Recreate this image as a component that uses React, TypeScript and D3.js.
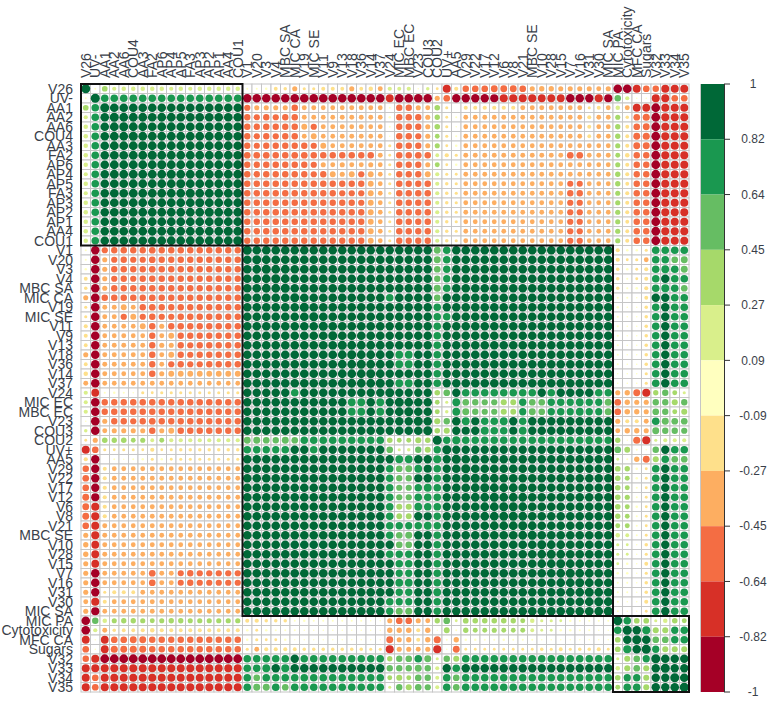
import React from 'react';
import * as d3 from 'd3';

const variables = [
  'V26', 'UV-', 'AA1', 'AA2', 'AA6', 'COU4', 'AA3', 'FA2', 'AP6', 'AP4', 'AP5', 'FA3', 'AP3', 'AP2', 'AP1', 'AA4', 'COU1',
  'V1', 'V20', 'V3', 'V4', 'MBC SA', 'MIC CA', 'V19', 'MIC SE', 'V11', 'V9', 'V13', 'V18', 'V36', 'V14', 'V37', 'V24',
  'MIC EC', 'MBC EC', 'V23', 'COU3', 'COU2', 'UV+', 'AA5', 'V29', 'V22', 'V17', 'V12', 'V6', 'V8', 'V21', 'MBC SE',
  'V10', 'V28', 'V15', 'V7', 'V16', 'V31', 'V30', 'MIC SA', 'MIC PA', 'Cytotoxicity', 'MFC CA', 'Sugars', 'V32', 'V33', 'V34', 'V35',
];

const legendTicks = ['1', '0.82', '0.64', '0.45', '0.27', '0.09', '-0.09', '-0.27', '-0.45', '-0.64', '-0.82', '-1'];

// cluster boxes, as [first, last] variable
const clusters = [['V26', 'COU1'], ['V1', 'MIC SA'], ['MIC PA', 'V35']];

// lower triangle of the correlation matrix, in hundredths
const rowsClusterA = [
  [],
  [5],
  [40, 72],
  [22, 72, 93],
  [25, 72, 92, 96],
  [25, 72, 92, 96, 96],
  [25, 72, 92, 95, 96, 96],
  [25, 72, 90, 94, 94, 95, 95],
  [25, 72, 90, 95, 95, 96, 96, 95],
  [22, 72, 90, 95, 95, 96, 96, 96, 96],
  [25, 72, 90, 94, 94, 95, 95, 95, 96, 96],
  [22, 72, 90, 94, 94, 95, 95, 96, 96, 96, 96],
  [25, 72, 90, 94, 94, 95, 95, 95, 96, 96, 96, 96],
  [25, 72, 90, 94, 94, 95, 95, 95, 96, 96, 96, 96, 96],
  [25, 72, 90, 94, 94, 95, 95, 95, 96, 96, 96, 96, 96, 96],
  [25, 72, 90, 94, 94, 95, 95, 95, 96, 96, 96, 96, 96, 96, 96],
  [25, 72, 90, 93, 94, 94, 94, 94, 95, 95, 95, 95, 95, 95, 95, 95],
];

const rowsClusterB = [
  [-5, -88, -48, -50, -52, -50, -50, -55, -50, -52, -52, -52, -52, -52, -52, -52, -50],
  [5, -90, -32, -48, -50, -48, -48, -55, -50, -50, -52, -52, -52, -52, -52, -52, -52,
    93],
  [-8, -90, -32, -50, -52, -50, -50, -55, -52, -52, -52, -52, -52, -52, -52, -52, -50,
    93, 95],
  [-18, -90, -32, -48, -50, -48, -50, -52, -52, -50, -52, -50, -50, -52, -52, -52, -50,
    93, 94, 95],
  [-15, -90, -32, -50, -50, -50, -50, -52, -50, -52, -50, -52, -50, -52, -52, -52, -50,
    92, 94, 95, 95],
  [-32, -92, -52, -52, -52, -52, -50, -55, -52, -52, -52, -52, -52, -52, -52, -52, -52,
    90, 92, 92, 92, 92],
  [-12, -92, -30, -30, -42, -30, -50, -55, -50, -50, -52, -50, -50, -50, -52, -52, -50,
    90, 92, 92, 92, 92, 92],
  [-12, -92, -30, -30, -48, -42, -48, -52, -48, -48, -52, -52, -52, -52, -52, -50, -50,
    90, 92, 92, 92, 92, 92, 94],
  [-20, -92, -28, -28, -30, -28, -42, -52, -32, -50, -52, -50, -50, -50, -52, -50, -50,
    90, 92, 92, 92, 92, 92, 93, 93],
  [-20, -92, -28, -28, -30, -28, -28, -50, -30, -42, -50, -50, -50, -50, -50, -50, -50,
    90, 92, 92, 92, 92, 92, 93, 93, 94],
  [-18, -90, -28, -30, -30, -30, -30, -50, -32, -32, -50, -48, -50, -50, -50, -50, -50,
    90, 92, 92, 92, 92, 92, 93, 93, 94, 94],
  [-32, -90, -30, -30, -28, -30, -30, -52, -30, -42, -50, -48, -50, -50, -50, -50, -50,
    90, 92, 92, 92, 92, 92, 93, 93, 94, 94, 95],
  [-18, -92, -30, -30, -30, -30, -30, -50, -30, -48, -50, -48, -48, -50, -50, -50, -50,
    90, 92, 92, 92, 92, 92, 93, 93, 94, 94, 95, 95],
  [-25, -90, -30, -30, -28, -28, -30, -52, -32, -42, -42, -42, -42, -42, -42, -42, -42,
    90, 92, 92, 92, 92, 92, 93, 93, 94, 94, 95, 95, 95],
  [-30, -90, -28, -28, -28, -28, -28, -30, -28, -28, -28, -28, -28, -28, -28, -28, -28,
    90, 92, 92, 92, 92, 92, 93, 93, 94, 94, 95, 95, 95, 95],
  [22, -75, -5, -8, -5, -3, -12, -10, -12, -12, -12, -12, -12, -12, -12, -12, -12,
    88, 88, 88, 88, 88, 72, 88, 88, 88, 88, 88, 88, 88, 88, 88],
  [20, -92, -50, -50, -50, -52, -52, -52, -50, -50, -52, -52, -52, -52, -52, -52, -50,
    88, 88, 90, 90, 90, 90, 90, 90, 90, 90, 90, 75, 75, 90, 75, 85],
  [22, -92, -50, -52, -52, -52, -52, -52, -50, -50, -50, -52, -52, -52, -52, -52, -50,
    88, 88, 90, 90, 90, 90, 90, 90, 90, 90, 90, 75, 75, 90, 75, 85, 96],
  [3, -92, -32, -50, -50, -48, -50, -55, -50, -50, -50, -52, -52, -50, -50, -50, -50,
    90, 90, 90, 90, 90, 90, 90, 90, 90, 90, 90, 90, 90, 90, 90, 86, 90, 90],
  [15, -90, -30, -32, -32, -32, -32, -52, -32, -42, -52, -52, -52, -52, -52, -50, -50,
    90, 90, 90, 90, 90, 90, 90, 90, 90, 90, 90, 90, 90, 90, 90, 86, 90, 90, 93],
  [-10, -32, 38, 35, 38, 28, 32, 18, 30, 22, 22, 22, 22, 22, 22, 22, 22,
    58, 60, 55, 50, 60, 55, 70, 70, 72, 72, 72, 72, 72, 70, 72, 38, 28, 30, 45, 38],
  [-78, -55, -12, -10, -12, -12, -10, -22, -10, -12, -15, -15, -15, -15, -15, -15, -15,
    70, 70, 68, 66, 72, 86, 86, 70, 86, 86, 86, 86, 86, 86, 86, 55, 12, 15, 50, 45, 68],
  [-22, -85, 0, -5, -3, -5, -8, -12, -8, -10, -12, -12, -12, -12, -12, -12, -12,
    90, 90, 90, 90, 90, 90, 90, 90, 90, 90, 90, 90, 90, 90, 90, 85, 75, 75, 90, 85, 80, 85],
  [-52, -85, -20, -28, -28, -28, -28, -30, -28, -28, -28, -28, -28, -28, -28, -28, -28,
    92, 92, 92, 92, 92, 92, 92, 92, 92, 92, 92, 92, 92, 92, 92, 72, 55, 60, 75, 82, 72, 86, 92],
  [-55, -85, -20, -28, -28, -28, -28, -30, -28, -28, -28, -28, -28, -28, -28, -28, -28,
    92, 92, 92, 92, 92, 92, 92, 92, 92, 92, 92, 92, 92, 92, 92, 72, 50, 50, 82, 88, 70, 85, 90,
    94],
  [-55, -85, -22, -28, -28, -28, -28, -30, -28, -28, -28, -28, -28, -28, -28, -28, -28,
    92, 92, 92, 92, 92, 92, 92, 92, 92, 92, 92, 92, 92, 92, 92, 72, 48, 48, 70, 78, 72, 85, 90,
    93, 95],
  [-58, -82, -22, -28, -28, -28, -28, -30, -28, -28, -28, -28, -28, -28, -28, -28, -28,
    92, 92, 92, 92, 92, 92, 92, 92, 92, 92, 92, 92, 92, 92, 92, 72, 48, 48, 72, 72, 70, 85, 90,
    93, 95, 96],
  [-58, -80, -22, -28, -28, -28, -28, -30, -28, -28, -28, -28, -28, -28, -28, -28, -28,
    92, 92, 92, 92, 92, 92, 92, 92, 92, 92, 92, 92, 92, 92, 92, 72, 45, 45, 75, 72, 72, 85, 90,
    92, 94, 95, 96],
  [-58, -80, -22, -28, -28, -28, -28, -30, -28, -28, -28, -28, -28, -28, -28, -28, -28,
    92, 92, 92, 92, 92, 92, 92, 92, 92, 92, 92, 92, 92, 92, 92, 72, 42, 42, 85, 82, 68, 85, 90,
    92, 94, 95, 96, 97],
  [-55, -78, -30, -28, -28, -28, -28, -30, -28, -28, -28, -28, -28, -28, -28, -28, -28,
    92, 92, 92, 92, 92, 92, 92, 92, 92, 92, 92, 92, 92, 92, 92, 72, 68, 65, 70, 75, 68, 85, 90,
    92, 93, 94, 95, 96, 96],
  [-32, -80, -30, -28, -28, -28, -28, -30, -28, -28, -28, -28, -28, -28, -28, -28, -28,
    92, 92, 92, 92, 92, 92, 92, 92, 92, 92, 92, 92, 92, 92, 92, 72, 55, 60, 88, 85, 72, 85, 90,
    90, 91, 92, 93, 94, 94, 95],
  [-35, -75, -30, -28, -28, -28, -28, -30, -28, -28, -28, -28, -28, -28, -28, -28, -28,
    92, 92, 92, 92, 92, 92, 92, 92, 92, 92, 92, 92, 92, 92, 92, 88, 55, 55, 88, 90, 72, 86, 90,
    90, 91, 92, 93, 94, 94, 94, 94],
  [-35, -75, -30, -28, -28, -28, -28, -30, -28, -28, -28, -28, -28, -28, -28, -28, -28,
    92, 92, 92, 92, 92, 92, 92, 92, 92, 92, 92, 92, 92, 92, 92, 72, 68, 68, 88, 90, 70, 86, 90,
    90, 91, 92, 92, 93, 93, 93, 94, 95],
  [-32, -75, -30, -28, -28, -28, -28, -30, -28, -28, -28, -28, -28, -28, -28, -28, -28,
    92, 92, 92, 92, 92, 92, 92, 92, 92, 92, 92, 92, 92, 92, 92, 88, 70, 70, 88, 90, 72, 86, 90,
    90, 91, 92, 92, 93, 93, 93, 94, 95, 95],
  [-32, -90, -28, -28, -28, -28, -28, -55, -30, -30, -46, -50, -48, -48, -48, -48, -48,
    92, 92, 92, 92, 92, 92, 92, 92, 92, 92, 92, 92, 92, 92, 92, 88, 65, 65, 88, 90, 72, 86, 90,
    88, 90, 90, 91, 92, 92, 92, 93, 94, 94, 95],
  [-32, -90, -28, -28, -28, -28, -28, -55, -30, -30, -46, -50, -48, -48, -48, -48, -48,
    92, 92, 92, 92, 92, 92, 92, 92, 92, 92, 92, 92, 92, 92, 92, 88, 75, 75, 88, 90, 72, 86, 90,
    88, 90, 90, 91, 92, 92, 92, 93, 94, 94, 95, 96],
  [-32, -85, -12, -20, -20, -18, -28, -28, -28, -28, -28, -28, -28, -28, -28, -28, -28,
    92, 92, 92, 92, 92, 92, 92, 92, 92, 92, 92, 92, 92, 92, 92, 90, 68, 68, 85, 90, 75, 86, 90,
    88, 90, 90, 91, 91, 92, 92, 92, 93, 93, 94, 95, 95],
  [-30, -80, -20, -28, -28, -28, -28, -30, -28, -28, -28, -28, -28, -28, -28, -28, -28,
    92, 92, 92, 92, 92, 92, 92, 92, 92, 92, 92, 92, 92, 92, 92, 72, 65, 65, 85, 90, 70, 86, 90,
    88, 89, 90, 90, 91, 91, 92, 92, 93, 93, 94, 94, 94, 95],
  [-32, -82, -28, -28, -28, -28, -28, -30, -28, -28, -28, -28, -28, -28, -28, -28, -28,
    92, 92, 92, 92, 92, 92, 92, 92, 92, 92, 92, 92, 92, 92, 92, 68, 62, 62, 85, 85, 70, 85, 88,
    88, 89, 89, 90, 90, 91, 91, 92, 92, 92, 93, 93, 94, 94, 95],
];

const rowsClusterC = [
  [-92, 52, 25, 32, 35, 35, 33, 30, 32, 35, 35, 32, 33, 33, 33, 33, 33,
    -20, -22, -15, -15, -15, -5, -8, -5, -5, -5, -5, -5, -5, -3, -3, -32, -55, -55, -32, -30, 35, 55, 10,
    40, 38, 38, 38, 38, 35, 30, 25, 12, 12, 10, 8, 5, 5, 5, 5],
  [-92, 22, -30, -15, -18, -18, -20, -25, -20, -20, -18, -20, -20, -20, -18, -18, -20,
    -8, -10, -8, -5, -5, 5, -3, -3, -3, -3, -3, -3, -3, -3, -3, -35, -35, -38, -20, -35, 2, 42, 5,
    35, 30, 30, 32, 30, 28, 30, 18, 10, 10, 8, 8, 5, 5, 3, 3,
    70],
  [-75, 3, -75, -55, -55, -58, -58, -52, -52, -50, -52, -52, -52, -52, -52, -52, -52,
    -8, -12, -10, -10, -8, -3, -3, -3, -3, -3, -3, -3, -3, -3, -3, -60, -32, -35, -20, -35, -62, 5, -35,
    -8, -8, -5, -5, -8, -5, -5, -5, -3, -3, -3, -3, -3, -3, -3, -3,
    40, 88],
  [-55, 3, -75, -62, -58, -62, -60, -52, -52, -52, -52, -52, -52, -52, -52, -52, -52,
    -12, -28, -20, -20, -20, -18, -15, -15, -15, -15, -15, -15, -15, -12, -12, -80, -32, -32, -30, -32, -80, 3, -58,
    -10, -10, -10, -10, -10, -10, -10, -10, -15, -12, -18, -12, -15, -15, -20, -10,
    40, 80, 90],
  [-52, -78, -95, -95, -95, -95, -95, -95, -95, -95, -95, -95, -95, -95, -95, -95, -95,
    72, 70, 70, 72, 72, 88, 70, 70, 70, 70, 72, 70, 72, 70, 72, 35, 50, 55, 72, 60, 12, 52, 45,
    72, 72, 72, 72, 72, 72, 72, 72, 72, 72, 72, 72, 72, 72, 72, 72,
    12, 45, 55, 65],
  [-78, -78, -78, -78, -78, -78, -78, -78, -78, -78, -78, -78, -78, -78, -78, -78, -78,
    72, 70, 75, 88, 78, 88, 88, 88, 88, 88, 88, 88, 88, 88, 88, 50, 50, 50, 60, 50, 20, 85, 72,
    88, 88, 88, 86, 86, 86, 86, 86, 86, 86, 86, 86, 86, 86, 86, 86,
    25, 45, 55, 45, 90],
  [-78, -55, -78, -78, -78, -78, -80, -80, -78, -78, -78, -78, -78, -78, -78, -78, -78,
    72, 55, 72, 72, 72, 72, 72, 72, 72, 72, 72, 72, 72, 72, 72, 30, 45, 30, 55, 50, 20, 72, 55,
    72, 72, 72, 72, 72, 72, 72, 72, 72, 72, 72, 72, 72, 72, 72, 72,
    38, 65, 68, 45, 88, 85],
  [-78, -55, -78, -78, -78, -78, -78, -78, -78, -78, -78, -78, -78, -78, -78, -78, -78,
    72, 60, 60, 72, 55, 72, 72, 72, 72, 72, 72, 72, 72, 72, 72, 12, 50, 45, 55, 48, 20, 70, 55,
    72, 72, 72, 72, 72, 72, 72, 72, 72, 72, 72, 72, 72, 72, 72, 72,
    30, 70, 72, 45, 88, 85, 92],
];

const lowerRows = [...rowsClusterA, ...rowsClusterB, ...rowsClusterC];

const corrValue = (i: number, j: number) =>
  i === j ? 1 : lowerRows[Math.max(i, j)][Math.min(i, j)] / 100;

const cells = variables.flatMap((rowName, i) =>
  variables.map((colName, j) => ({ rowName, colName, value: corrValue(i, j) }))
);

const x = d3.scaleBand<string>().domain(variables).range([81, 689]);
const y = d3.scaleBand<string>().domain(variables).range([84, 692]);
const color = d3.scaleQuantize<string>().domain([-1, 1]).range(d3.schemeRdYlGn[11]);
const radius = d3.scaleSqrt().domain([0, 1]).range([0, 4.5]);

// colour legend, top bin is the strongest positive
const legendColors = [...d3.schemeRdYlGn[11]].reverse();
const legendBins = d3.scaleBand<string>().domain(legendColors).range([84, 692]);
const legendY = d3.scalePoint<string>().domain(legendTicks).range([84, 692]);

const textColor = '#3a3f4a';
const labelFont = 'Arial, "Liberation Sans", sans-serif';

export default function App() {
  const cell = x.bandwidth();
  return (
    <svg
      width={772}
      height={705}
      style={{ position: 'absolute', left: 0, top: 0, display: 'block', background: '#fff' }}
      fontFamily={labelFont}
    >
      <g>
        {cells.map(d => (
          <rect
            key={`g-${d.rowName}-${d.colName}`}
            x={x(d.colName)}
            y={y(d.rowName)}
            width={cell}
            height={cell}
            fill="#fff"
            stroke="#c6c6c6"
            strokeWidth={1}
          />
        ))}
      </g>
      <g>
        {cells.map(d => (
          <circle
            key={`c-${d.rowName}-${d.colName}`}
            cx={x(d.colName)! + cell / 2}
            cy={y(d.rowName)! + cell / 2}
            r={radius(Math.abs(d.value))}
            fill={color(d.value)}
          />
        ))}
      </g>
      <g>
        {clusters.map(([first, last]) => (
          <rect
            key={first}
            x={x(first)}
            y={y(first)}
            width={x(last)! + cell - x(first)!}
            height={y(last)! + cell - y(first)!}
            fill="none"
            stroke="#111"
            strokeWidth={2}
          />
        ))}
      </g>
      <g fontSize={14} fill={textColor}>
        {variables.map(name => (
          <text key={`r-${name}`} x={73} y={y(name)! + cell / 2} dy="0.35em" textAnchor="end">
            {name}
          </text>
        ))}
        {variables.map(name => (
          <text
            key={`t-${name}`}
            transform={`translate(${x(name)! + cell / 2},78) rotate(-90)`}
            dy="0.35em"
          >
            {name}
          </text>
        ))}
      </g>
      <g>
        {legendColors.map(c => (
          <rect key={c} x={701} y={legendBins(c)} width={23} height={legendBins.bandwidth()} fill={c} />
        ))}
        <line x1={700.5} x2={700.5} y1={84} y2={692} stroke="#c6c6c6" />
        <line x1={724.5} x2={724.5} y1={84} y2={692} stroke="#333" />
        {legendTicks.map(t => (
          <g key={t}>
            <line x1={724} x2={730} y1={legendY(t)} y2={legendY(t)} stroke="#333" />
            <text x={753} y={legendY(t)} dy="0.35em" textAnchor="middle" fontSize={12} fill={textColor}>
              {t}
            </text>
          </g>
        ))}
      </g>
    </svg>
  );
}
